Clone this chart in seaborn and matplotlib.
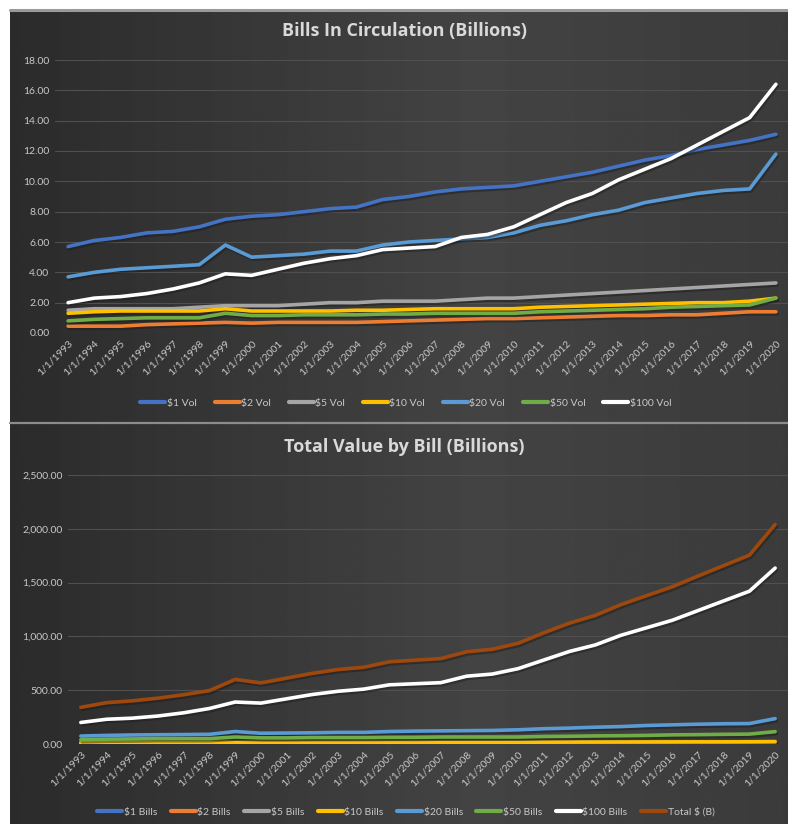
import numpy as np
import pandas as pd
import seaborn as sns
import matplotlib.pyplot as plt
import matplotlib.patheffects as pe
from matplotlib.ticker import FuncFormatter

years = [f"1/1/{y}" for y in range(1993, 2021)]

# Bills in circulation, billions of notes
vol_1 = [5.7, 6.1, 6.3, 6.6, 6.7, 7.0, 7.5, 7.7, 7.8, 8.0, 8.2, 8.3, 8.8, 9.0,
         9.3, 9.5, 9.6, 9.7, 10.0, 10.3, 10.6, 11.0, 11.4, 11.7, 12.1, 12.4, 12.7, 13.1]
vol_2 = [0.45, 0.45, 0.45, 0.55, 0.6, 0.65, 0.7, 0.65, 0.7, 0.7, 0.7, 0.7, 0.75, 0.8,
         0.85, 0.9, 0.95, 0.95, 1.0, 1.05, 1.1, 1.15, 1.15, 1.2, 1.2, 1.3, 1.4, 1.4]
vol_5 = [1.5, 1.6, 1.6, 1.6, 1.6, 1.7, 1.8, 1.8, 1.8, 1.9, 2.0, 2.0, 2.1, 2.1,
         2.1, 2.2, 2.3, 2.3, 2.4, 2.5, 2.6, 2.7, 2.8, 2.9, 3.0, 3.1, 3.2, 3.3]
vol_10 = [1.3, 1.4, 1.45, 1.45, 1.45, 1.45, 1.6, 1.45, 1.45, 1.45, 1.45, 1.5, 1.5, 1.55,
          1.6, 1.6, 1.6, 1.6, 1.7, 1.75, 1.8, 1.85, 1.9, 1.95, 2.0, 2.0, 2.1, 2.3]
vol_20 = [3.7, 4.0, 4.2, 4.3, 4.4, 4.5, 5.8, 5.0, 5.1, 5.2, 5.4, 5.4, 5.8, 6.0,
          6.1, 6.2, 6.3, 6.6, 7.1, 7.4, 7.8, 8.1, 8.6, 8.9, 9.2, 9.4, 9.5, 11.8]
vol_50 = [0.8, 0.9, 0.95, 1.0, 1.0, 1.0, 1.3, 1.15, 1.15, 1.2, 1.2, 1.2, 1.25, 1.25,
          1.3, 1.3, 1.3, 1.3, 1.4, 1.45, 1.5, 1.55, 1.6, 1.7, 1.75, 1.8, 1.85, 2.3]
vol_100 = [2.0, 2.3, 2.4, 2.6, 2.9, 3.3, 3.9, 3.8, 4.2, 4.6, 4.9, 5.1, 5.5, 5.6,
           5.7, 6.3, 6.5, 7.0, 7.8, 8.6, 9.2, 10.1, 10.8, 11.5, 12.4, 13.3, 14.2, 16.4]

# Total value by bill, billions of dollars
val_1 = [5.7, 6.1, 6.3, 6.6, 6.7, 7.0, 7.5, 7.7, 7.8, 8.0, 8.2, 8.3, 8.8, 9.0,
         9.3, 9.5, 9.6, 9.7, 10.0, 10.3, 10.6, 11.0, 11.4, 11.7, 12.1, 12.4, 12.7, 13.1]
val_2 = [0.9, 0.9, 0.9, 1.1, 1.2, 1.3, 1.4, 1.3, 1.4, 1.4, 1.4, 1.4, 1.5, 1.6,
         1.7, 1.8, 1.9, 1.9, 2.0, 2.1, 2.2, 2.3, 2.3, 2.4, 2.4, 2.6, 2.8, 2.8]
val_5 = [7.5, 8, 8, 8, 8, 8.5, 9, 9, 9, 9.5, 10, 10, 10.5, 10.5,
         10.5, 11, 11.5, 11.5, 12, 12.5, 13, 13.5, 14, 14.5, 15, 15.5, 16, 16.5]
val_10 = [13, 14, 14.5, 14.5, 14.5, 14.5, 16, 14.5, 14.5, 14.5, 14.5, 15, 15, 15.5,
          16, 16, 16, 16, 17, 17.5, 18, 18.5, 19, 19.5, 20, 20, 21, 23]
val_20 = [74, 80, 84, 86, 88, 90, 116, 100, 102, 104, 108, 108, 116, 120,
          122, 124, 126, 132, 142, 148, 156, 162, 172, 178, 184, 188, 190, 236]
val_50 = [40, 45, 47, 50, 50, 50, 65, 57, 57, 60, 60, 60, 62, 62,
          65, 65, 65, 65, 70, 72, 75, 77, 80, 85, 87, 90, 92, 115]
val_100 = [200, 230, 240, 260, 290, 330, 390, 380, 420, 460, 490, 510, 550, 560,
           570, 630, 650, 700, 780, 860, 920, 1010, 1080, 1150, 1240, 1330, 1420, 1635]
val_total = [341, 384, 401, 426, 458, 496, 600, 568, 612, 657, 692, 713, 764, 779,
             794, 857, 880, 936, 1033, 1123, 1195, 1295, 1379, 1461, 1561, 1658, 1755, 2040]

top_names = ["$1 Vol", "$2 Vol", "$5 Vol", "$10 Vol", "$20 Vol", "$50 Vol", "$100 Vol"]
bot_names = ["$1 Bills", "$2 Bills", "$5 Bills", "$10 Bills", "$20 Bills", "$50 Bills",
             "$100 Bills", "Total $ (B)"]
colors = ["#4472C4", "#ED7D31", "#A5A5A5", "#FFC000", "#5B9BD5", "#70AD47", "#FFFFFF", "#9E480E"]

FONT = ["Lato", "DejaVu Sans"]
TITLE_FONT = ["Open Sans", "DejaVu Sans"]
TXT = "#c8c8c8"


def long_frame(names, series):
    df = pd.DataFrame(dict(zip(names, series)))
    df["x"] = range(len(years))
    return df.melt(id_vars="x", var_name="series", value_name="value")


def panel_background(fig, rect):
    bg = fig.add_axes(rect, zorder=0)
    grad = np.interp(np.linspace(0, 1, 300), [0, 0.6, 1], [0.17, 0.265, 0.23])
    bg.imshow(np.tile(grad, (2, 1)), aspect="auto", cmap="gray", vmin=0, vmax=1,
              extent=[0, 1, 0, 1])
    bg.axis("off")


def draw_chart(fig, rect, names, series, title, title_y, ymax, step, fmt, legend_y, colspace):
    ax = fig.add_axes(rect, zorder=2)
    ax.set_facecolor("none")
    df = long_frame(names, series)
    pal = dict(zip(names, colors[:len(names)]))
    sns.lineplot(data=df, x="x", y="value", hue="series", hue_order=names,
                 palette=pal, linewidth=2.6, ax=ax, sort=False)
    for ln in ax.get_lines():
        ln.set_path_effects([pe.SimpleLineShadow(offset=(1, -1.5), alpha=0.45),
                             pe.Normal()])
    ax.set_xlim(-0.5, len(years) - 0.5)
    ax.set_ylim(0, ymax)
    ax.set_yticks(np.arange(0, ymax + 1, step))
    ax.yaxis.set_major_formatter(FuncFormatter(lambda v, p: format(v, fmt)))
    ax.set_xticks(range(len(years)))
    ax.set_xticklabels(years, rotation=45, ha="right", rotation_mode="anchor")
    ax.grid(axis="y", color="#505050", linewidth=0.8)
    ax.set_axisbelow(True)
    for s in ax.spines.values():
        s.set_visible(False)
    ax.tick_params(axis="both", length=0, colors=TXT, labelsize=7.5, pad=4)
    for lab in ax.get_xticklabels() + ax.get_yticklabels():
        lab.set_family(FONT)
    ax.set_xlabel("")
    ax.set_ylabel("")
    sns.move_legend(ax, "center", bbox_to_anchor=(0.515, legend_y),
                    bbox_transform=fig.transFigure, ncol=len(names), frameon=False,
                    title=None, fontsize=7.5, handlelength=2.4, handletextpad=0.15,
                    columnspacing=colspace)
    leg = ax.get_legend()
    for t in leg.get_texts():
        t.set_color(TXT)
        t.set_family(FONT)
    for h in leg.legend_handles:
        h.set_linewidth(3)
    fig.text(0.513, title_y, title, ha="center", va="center", color="#d9d9d9",
             fontsize=13, fontweight="bold", family=TITLE_FONT)
    return ax


sns.set_theme(style="dark")
plt.rcParams["font.family"] = FONT

fig = plt.figure(figsize=(7.88, 8.24), dpi=100)
fig.patch.set_facecolor("white")

W, H = 788.0, 824.0
panel_background(fig, [10 / W, (H - 422) / H, 1 - 10 / W, 411 / H])
panel_background(fig, [10 / W, 0, 1 - 10 / W, (H - 424) / H])
fig.add_artist(plt.Line2D([10 / W, 1], [(H - 9.5) / H] * 2, color="#9a9a9a", lw=2.2))
fig.add_artist(plt.Line2D([10 / W, 1], [(H - 423) / H] * 2, color="#8c8c8c", lw=1.6))

draw_chart(fig, [55 / W, (H - 333) / H, 734 / W, 273 / H],
           top_names, [vol_1, vol_2, vol_5, vol_10, vol_20, vol_50, vol_100],
           "Bills In Circulation (Billions)", (H - 31) / H, 18, 2, ".2f",
           (H - 403) / H, 1.7)
draw_chart(fig, [68 / W, (H - 744) / H, 720 / W, 269 / H],
           bot_names, [val_1, val_2, val_5, val_10, val_20, val_50, val_100, val_total],
           "Total Value by Bill (Billions)", (H - 447) / H, 2500, 500, ",.2f",
           (H - 812) / H, 1.3)

fig.savefig("out.png", dpi=100, facecolor=fig.get_facecolor())
